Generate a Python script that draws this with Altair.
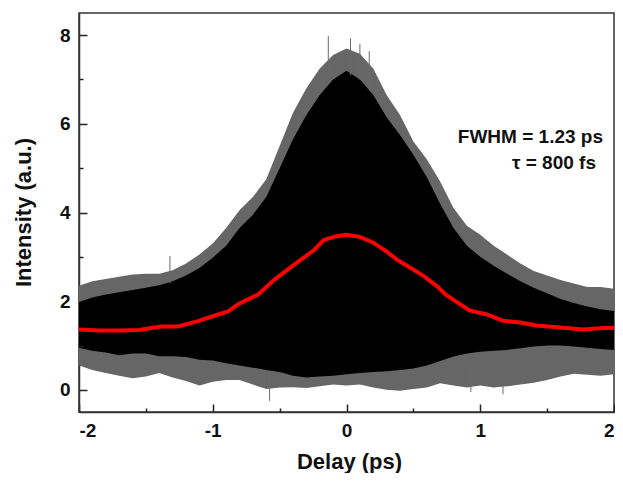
import altair as alt
import pandas as pd

delay = [round(-2.0 + 0.1 * i, 1) for i in range(41)]

# Outer tips of the thin gray spikes (upper / lower)
tip_hi = [2.35, 2.45, 2.50, 2.55, 2.60, 2.62, 2.62, 2.70, 2.85, 3.05,
          3.30, 3.65, 4.05, 4.35, 4.75, 5.50, 6.25, 6.80, 7.25, 7.55,
          7.70, 7.58, 7.25, 6.65, 6.20, 5.60, 5.20, 4.70, 4.10, 3.70,
          3.50, 3.25, 3.05, 2.85, 2.68, 2.58, 2.48, 2.40, 2.32, 2.32, 2.28]
tip_lo = [0.55, 0.45, 0.38, 0.32, 0.26, 0.30, 0.38, 0.28, 0.20, 0.10,
          0.18, 0.22, 0.22, 0.12, 0.02, 0.05, 0.06, 0.04, 0.08, 0.12,
          0.10, 0.12, 0.05, 0.00, -0.02, 0.02, 0.05, 0.15, 0.10, 0.05,
          0.10, 0.05, 0.08, 0.12, 0.16, 0.22, 0.30, 0.36, 0.34, 0.32, 0.35]

# Dense black core of the interferometric signal (upper / lower)
core_hi = [1.98, 2.08, 2.15, 2.20, 2.25, 2.30, 2.36, 2.45, 2.58, 2.75,
           2.98, 3.25, 3.65, 3.95, 4.35, 5.00, 5.65, 6.20, 6.65, 7.00,
           7.20, 7.00, 6.65, 6.15, 5.75, 5.30, 4.80, 4.20, 3.65, 3.25,
           3.00, 2.80, 2.62, 2.45, 2.30, 2.18, 2.05, 1.96, 1.88, 1.82, 1.78]
core_lo = [0.95, 0.88, 0.84, 0.78, 0.82, 0.82, 0.76, 0.76, 0.74, 0.68,
           0.66, 0.60, 0.55, 0.50, 0.45, 0.40, 0.32, 0.28, 0.30, 0.32,
           0.35, 0.38, 0.40, 0.42, 0.45, 0.48, 0.55, 0.65, 0.75, 0.82,
           0.86, 0.88, 0.90, 0.94, 0.98, 1.00, 1.00, 0.98, 0.95, 0.92, 0.90]

# A few isolated spikes that stand out of the envelope
spike_x = [-1.32, -0.136, 0.03, 0.10, 0.17, -0.575, 0.93, 1.17]
spike_lo = [2.40, 6.90, 7.10, 7.00, 6.80, -0.25, -0.05, -0.10]
spike_hi = [3.02, 7.98, 7.93, 7.80, 7.64, 0.40, 0.60, 0.70]

# Red smoothed (averaged) trace
avg_x = [-2.0, -1.85, -1.70, -1.55, -1.45, -1.38, -1.26, -1.11, -1.0, -0.885,
         -0.81, -0.66, -0.54, -0.44, -0.36, -0.24, -0.17, -0.08, 0.0, 0.1,
         0.2, 0.3, 0.38, 0.48, 0.58, 0.68, 0.74, 0.80, 0.92, 1.05,
         1.17, 1.30, 1.42, 1.62, 1.77, 1.89, 2.0]
avg_y = [1.36, 1.34, 1.34, 1.35, 1.40, 1.43, 1.43, 1.55, 1.66, 1.77,
         1.93, 2.15, 2.48, 2.71, 2.89, 3.16, 3.38, 3.46, 3.50, 3.45,
         3.32, 3.12, 2.93, 2.75, 2.56, 2.33, 2.15, 2.03, 1.79, 1.70,
         1.56, 1.52, 1.45, 1.40, 1.36, 1.39, 1.40]

annotations = ["FWHM = 1.23 ps", "\u03c4 = 800 fs"]

x_major = [-2, -1, 0, 1, 2]
x_minor = [-1.5, -0.5, 0.5, 1.5]
y_major = [0, 2, 4, 6, 8]
y_minor = [1, 3, 5, 7]

FONT = "Liberation Sans"
W, H = 535, 399

env = pd.DataFrame({"delay": delay, "tip_hi": tip_hi, "tip_lo": tip_lo,
                    "core_hi": core_hi, "core_lo": core_lo})
spk = pd.DataFrame({"delay": spike_x, "lo": spike_lo, "hi": spike_hi})
avg = pd.DataFrame({"delay": avg_x, "intensity": avg_y})

xscale = alt.Scale(domain=[-2, 2], nice=False, zero=False)
yscale = alt.Scale(domain=[-0.5, 8.5], nice=False, zero=False)

x_axis = alt.Axis(values=x_major, labelExpr="'' + datum.value", grid=False,
                  orient="bottom",
                  tickSize={"expr": "-8"}, tickWidth=1.5, tickColor="#222",
                  domainColor="#333", domainWidth=1.5,
                  labelFont=FONT, labelFontSize=19, labelFontWeight="bold",
                  labelColor="#111", labelPadding=17,
                  title="Delay (ps)", titleFont=FONT, titleFontSize=22,
                  titleFontWeight="bold", titleColor="#111",
                  titleX=270, titleY=49, titleAnchor="middle",
                  titleAlign="center", titleBaseline="middle")
y_axis = alt.Axis(values=y_major, grid=False, orient="left",
                  tickSize={"expr": "-8"}, tickWidth=1.5, tickColor="#222",
                  domainColor="#333", domainWidth=1.5,
                  labelFont=FONT, labelFontSize=19, labelFontWeight="bold",
                  labelColor="#111", labelPadding=17,
                  title="Intensity (a.u.)", titleFont=FONT, titleFontSize=22,
                  titleFontWeight="bold", titleColor="#111",
                  titleX=-56, titleY=199, titleAngle=270, titleAnchor="middle",
                  titleAlign="center", titleBaseline="middle")

gray = alt.Chart(env).mark_area(color="#666666").encode(
    x=alt.X("delay:Q", scale=xscale, axis=x_axis),
    y=alt.Y("tip_lo:Q", scale=yscale, axis=y_axis),
    y2="tip_hi:Q",
)
core = alt.Chart(env).mark_area(color="black").encode(
    x=alt.X("delay:Q", scale=xscale, axis=None),
    y=alt.Y("core_lo:Q", scale=yscale, axis=None),
    y2="core_hi:Q",
)
spikes = alt.Chart(spk).mark_rule(color="#6a6a6a", strokeWidth=1).encode(
    x=alt.X("delay:Q", scale=xscale, axis=None),
    y=alt.Y("lo:Q", scale=yscale, axis=None),
    y2="hi:Q",
)
red = alt.Chart(avg).mark_line(color="#ff0000", strokeWidth=4).encode(
    x=alt.X("delay:Q", scale=xscale, axis=None),
    y=alt.Y("intensity:Q", scale=yscale, axis=None),
)
minor = alt.Chart(avg).mark_point(opacity=0).encode(
    x=alt.X("delay:Q", scale=xscale,
            axis=alt.Axis(values=x_minor, labels=False, domain=False, grid=False,
                          orient="bottom", zindex=2,
                          tickSize={"expr": "-4"}, tickWidth=1.5, tickColor="#222",
                          title=None)),
    y=alt.Y("intensity:Q", scale=yscale,
            axis=alt.Axis(values=y_minor, labels=False, domain=False, grid=False,
                          orient="left", zindex=2,
                          tickSize={"expr": "-4"}, tickWidth=1.5, tickColor="#222",
                          title=None)),
)

ann = pd.DataFrame({"label": annotations, "px": [524, 517], "py": [124, 150]})
text = alt.Chart(ann).mark_text(align="right", baseline="middle", font=FONT,
                                fontSize=19, fontWeight="bold", color="#111").encode(
    x=alt.X("px:Q", scale=None, axis=None),
    y=alt.Y("py:Q", scale=None, axis=None),
    text="label:N",
)

chart = alt.layer(gray, core, spikes, red, minor, text).resolve_axis(
    x="independent", y="independent"
).properties(
    width=W, height=H, autosize="none",
    padding={"left": 71, "top": 5, "right": 1, "bottom": 61},
).configure_view(stroke="#333", strokeWidth=1.5)

chart.save("out.html", embed_options={"renderer": "svg", "actions": False})
